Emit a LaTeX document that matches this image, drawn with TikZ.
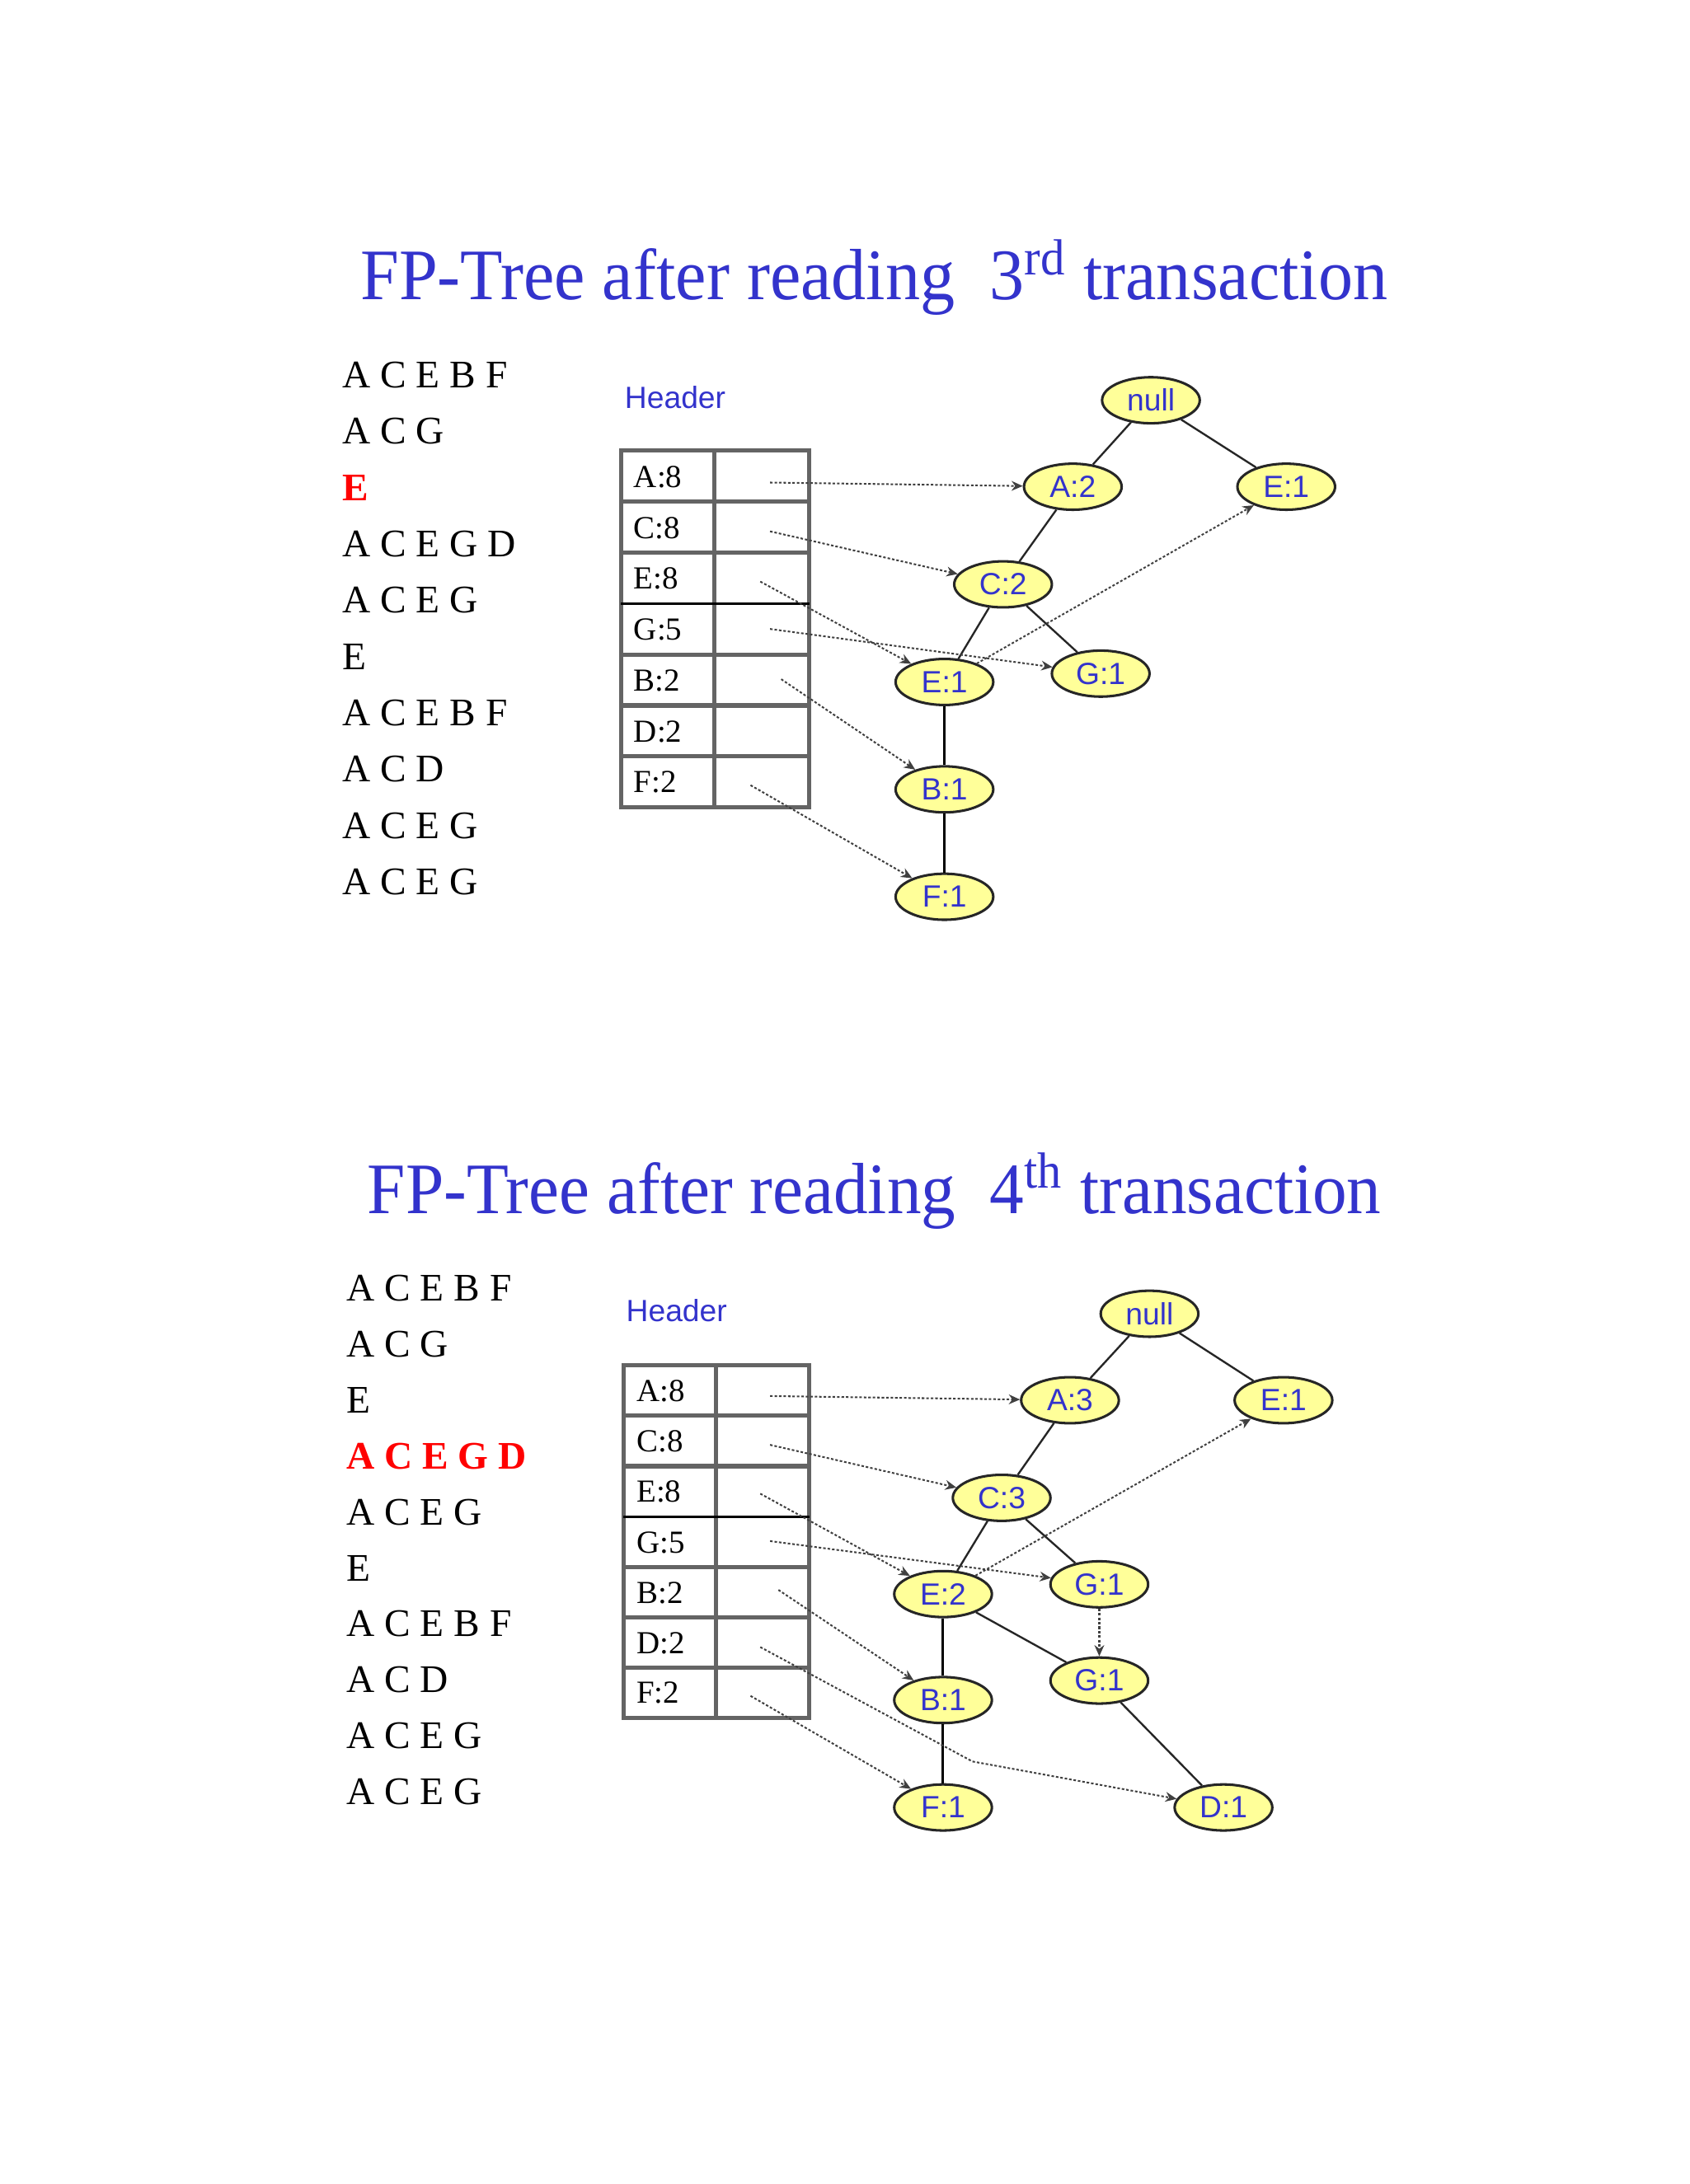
\documentclass[tikz,border=0pt]{standalone}
\usepackage{fontspec}
\setmainfont{Liberation Serif}
\newfontfamily\arialf{Liberation Sans}
\usetikzlibrary{shapes.geometric,arrows.meta}
\definecolor{ttlblue}{RGB}{51,51,204}
\definecolor{nodeyel}{RGB}{255,255,153}
\definecolor{gridgray}{RGB}{100,100,100}
\definecolor{txtred}{RGB}{255,0,0}
\begin{document}
\begin{tikzpicture}[x=0.5pt,y=-0.5pt,
  fpnode/.style={ellipse, draw=black!85, line width=0.9pt, fill=nodeyel, minimum width=35pt, minimum height=16.5pt, inner sep=0pt, font=\arialf\fontsize{11}{13}\selectfont, text=ttlblue},
  treeedge/.style={draw=black!85, line width=0.7pt},
  vedge/.style={draw=black, line width=0.9pt},
  link/.style={draw=black!75, dash pattern=on 0.9pt off 0.7pt, line width=0.6pt, -{Stealth[length=4pt,width=3.5pt]}},
  ttl/.style={font=\fontsize{26}{30}\selectfont, text=ttlblue, inner sep=0pt, anchor=base west},
  trans/.style={font=\fontsize{14}{17}\selectfont, inner sep=0pt, anchor=base west},
  transred/.style={trans, font=\fontsize{14}{17}\selectfont\bfseries, text=txtred},
  hdr/.style={font=\arialf\fontsize{11}{13}\selectfont, text=ttlblue, inner sep=0pt},
  rowlab/.style={font=\fontsize{11.5}{13}\selectfont, inner sep=0pt, anchor=west},
  grid/.style={draw=gridgray, line width=1.5pt},
  gridblk/.style={draw=black, line width=0.9pt},
]
\useasboundingbox[fill=white] (0,0) rectangle (1211,1566);

% ================= TOP =================
\node[ttl] (title1) at (258,215) {\scalebox{0.956}[1]{FP-Tree after reading\ \ 3\textsuperscript{rd} transaction}};

\node[trans] (t1a) at (245,278) {A C E B F};
\node[trans] (t1b) at (245,318.4) {A C G};
\node[transred] (t1c) at (245,358.8) {E};
\node[trans] (t1d) at (245,399.2) {A C E G D};
\node[trans] (t1e) at (245,439.6) {A C E G};
\node[trans] (t1f) at (245,480) {E};
\node[trans] (t1g) at (245,520.4) {A C E B F};
\node[trans] (t1h) at (245,560.8) {A C D};
\node[trans] (t1i) at (245,601.2) {A C E G};
\node[trans] (t1j) at (245,641.6) {A C E G};

\node[hdr] (hdr1) at (484,285) {Header};

\draw[grid] (445,323) rectangle (580,579);
\draw[grid] (512,323) -- (512,579);
\foreach \i in {1,2,4,5,6} { \draw[grid] (445,323+36.57*\i) -- (580,323+36.57*\i); }
\draw[gridblk] (445,323+36.57*3) -- (580,323+36.57*3);

\node[rowlab] (r1a) at (454,342) {A:8};
\node[rowlab] (r1c) at (454,378.5) {C:8};
\node[rowlab] (r1e) at (454,415) {E:8};
\node[rowlab] (r1g) at (454,451.5) {G:5};
\node[rowlab] (r1b) at (454,488) {B:2};
\node[rowlab] (r1d) at (454,524.5) {D:2};
\node[rowlab] (r1f) at (454,561) {F:2};

\node[fpnode] (n1null) at (825,287) {null};
\node[fpnode] (n1a) at (769,349) {A:2};
\node[fpnode] (n1er) at (922,349) {E:1};
\node[fpnode] (n1c) at (719,419) {C:2};
\node[fpnode] (n1e) at (677,489) {E:1};
\node[fpnode] (n1g) at (789,483) {G:1};
\node[fpnode] (n1b) at (677,566) {B:1};
\node[fpnode] (n1f) at (677,643) {F:1};

\draw[treeedge] (n1null) -- (n1a);
\draw[treeedge] (n1null) -- (n1er);
\draw[treeedge] (n1a) -- (n1c);
\draw[treeedge] (n1c) -- (n1e);
\draw[treeedge] (n1c) -- (n1g);
\draw[vedge] (n1e) -- (n1b);
\draw[vedge] (n1b) -- (n1f);

\coordinate (h1a) at (552,346);
\coordinate (h1c) at (552,381);
\coordinate (h1e) at (545,417);
\coordinate (h1g) at (552,451);
\coordinate (h1b) at (560,487);
\coordinate (h1f) at (538,563);
\draw[link] (h1a) -- (n1a);
\draw[link] (h1c) -- (n1c);
\draw[link] (h1e) -- (n1e);
\draw[link] (h1g) -- (n1g);
\draw[link] (h1b) -- (n1b);
\draw[link] (h1f) -- (n1f);
\draw[link] (n1e) -- (n1er);

% ================= BOTTOM =================
\node[ttl] (title2) at (263,870) {\scalebox{0.946}[1]{FP-Tree after reading\ \ 4\textsuperscript{th} transaction}};

\node[trans] (t2a) at (248,933) {A C E B F};
\node[trans] (t2b) at (248,973.1) {A C G};
\node[trans] (t2c) at (248,1013.2) {E};
\node[transred] (t2d) at (248,1053.3) {A C E G D};
\node[trans] (t2e) at (248,1093.4) {A C E G};
\node[trans] (t2f) at (248,1133.5) {E};
\node[trans] (t2g) at (248,1173.6) {A C E B F};
\node[trans] (t2h) at (248,1213.7) {A C D};
\node[trans] (t2i) at (248,1253.8) {A C E G};
\node[trans] (t2j) at (248,1293.9) {A C E G};

\node[hdr] (hdr2) at (485,940) {Header};

\draw[grid] (447,979) rectangle (580,1232);
\draw[grid] (513,979) -- (513,1232);
\foreach \i in {1,2,4,5,6} { \draw[grid] (447,979+36.14*\i) -- (580,979+36.14*\i); }
\draw[gridblk] (447,979+36.14*3) -- (580,979+36.14*3);

\node[rowlab] (r2a) at (456,997.5) {A:8};
\node[rowlab] (r2c) at (456,1033.5) {C:8};
\node[rowlab] (r2e) at (456,1069.5) {E:8};
\node[rowlab] (r2g) at (456,1106) {G:5};
\node[rowlab] (r2b) at (456,1142) {B:2};
\node[rowlab] (r2d) at (456,1178) {D:2};
\node[rowlab] (r2f) at (456,1214) {F:2};

\node[fpnode] (n2null) at (824,942) {null};
\node[fpnode] (n2a) at (767,1004) {A:3};
\node[fpnode] (n2er) at (920,1004) {E:1};
\node[fpnode] (n2c) at (718,1074) {C:3};
\node[fpnode] (n2e) at (676,1143) {E:2};
\node[fpnode] (n2g) at (788,1136) {G:1};
\node[fpnode] (n2g2) at (788,1205) {G:1};
\node[fpnode] (n2b) at (676,1219) {B:1};
\node[fpnode] (n2f) at (676,1296) {F:1};
\node[fpnode] (n2d) at (877,1296) {D:1};

\draw[treeedge] (n2null) -- (n2a);
\draw[treeedge] (n2null) -- (n2er);
\draw[treeedge] (n2a) -- (n2c);
\draw[treeedge] (n2c) -- (n2e);
\draw[treeedge] (n2c) -- (n2g);
\draw[treeedge] (n2e) -- (n2g2);
\draw[treeedge] (n2g2) -- (n2d);
\draw[vedge] (n2e) -- (n2b);
\draw[vedge] (n2b) -- (n2f);

\coordinate (h2a) at (552,1001);
\coordinate (h2c) at (552,1036);
\coordinate (h2e) at (545,1071);
\coordinate (h2g) at (552,1105);
\coordinate (h2b) at (558,1140);
\coordinate (h2d) at (545,1181);
\coordinate (h2dbend) at (697,1263);
\coordinate (h2f) at (538,1216);
\draw[link] (h2a) -- (n2a);
\draw[link] (h2c) -- (n2c);
\draw[link] (h2e) -- (n2e);
\draw[link] (h2g) -- (n2g);
\draw[link] (h2b) -- (n2b);
\draw[link] (h2d) -- (h2dbend) -- (n2d);
\draw[link] (h2f) -- (n2f);
\draw[link] (n2e) -- (n2er);
\draw[link] (n2g) -- (n2g2);
\end{tikzpicture}
\end{document}
